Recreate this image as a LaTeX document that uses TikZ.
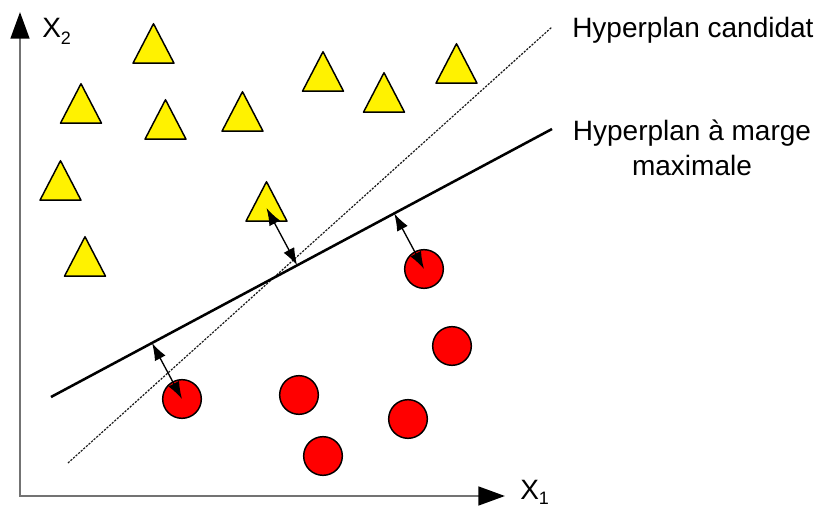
\documentclass[tikz,border=0pt]{standalone}
\usepackage{fontspec}
\setmainfont{Liberation Sans}
\usetikzlibrary{arrows.meta,calc}

\tikzset{
  axis/.style={draw=black!55,line width=2pt,
    {Triangle[length=20pt,width=14pt,color=black]}-{Triangle[length=20pt,width=14pt,color=black]}},
  tri/.style={fill=yellow,draw=black,line width=1.1pt,line join=round},
  dot/.style={circle,fill=red,draw=black,line width=1.1pt,inner sep=0pt,minimum size=29pt},
  candidat/.style={draw=black!90,line width=0.9pt,dash pattern=on 1.6pt off 1pt},
  maxmarge/.style={draw=black,line width=1.9pt},
  marge/.style={line width=1pt,<->},
  lab/.style={font=\fontsize{21}{26}\selectfont,inner sep=0pt}
}

\begin{document}
\begin{tikzpicture}[x=0.75pt,y=-0.75pt,>={Latex[length=13pt,width=9pt]}]
\useasboundingbox (0,0) rectangle (818,510);

% Axes
\coordinate (o) at (20,496);
\coordinate (ytip) at (20,12);
\coordinate (xtip) at (505,496);
\draw[axis] (ytip) -- (o) -- (xtip);
\node[lab,anchor=base west] (x2lab) at (42,38)
  {X\raisebox{-5pt}{\fontsize{13.5}{13.5}\selectfont 2}};
\node[lab,anchor=base west] (x1lab) at (520,499)
  {X\raisebox{-4.2pt}{\fontsize{13.5}{13.5}\selectfont 1}};

% Hyperplanes
\coordinate (d1) at (68,463);
\coordinate (d2) at (552,27);
\coordinate (m1) at (51,397);
\coordinate (m2) at (552,129);
\draw[candidat] (d1) -- (d2);
\draw[maxmarge] (m1) -- (m2);

% Triangles (centroids)
\foreach \x/\y [count=\i] in {153.5/50, 81/110, 165.5/126, 242.5/118, 323/78,
    384/99, 456.5/70, 60.5/187, 85/263, 266.5/208}{
  \coordinate (t\i) at (\x,\y);
  \filldraw[tri,shift={(t\i)}] (0,-26.3) -- (-20.5,13.2) -- (20.5,13.2) -- cycle;
}

% Circles
\foreach \x/\y [count=\i] in {424/269, 452/346, 182/399, 299/395, 408/419, 323/456}
  \node[dot] (c\i) at (\x,\y) {};

% Margins
\draw[marge] (t10) -- ($(m1)!(t10)!(m2)$);
\draw[marge] ($(m1)!(c1)!(m2)$) -- (c1.center);
\draw[marge] ($(m1)!(c3)!(m2)$) -- (c3.center);

% Labels
\node[lab,anchor=base west] (candlab) at (572,38) {Hyperplan candidat};
\node[lab,align=center] (maxlab) at (692,148) {Hyperplan à marge\\maximale};

\end{tikzpicture}
\end{document}
